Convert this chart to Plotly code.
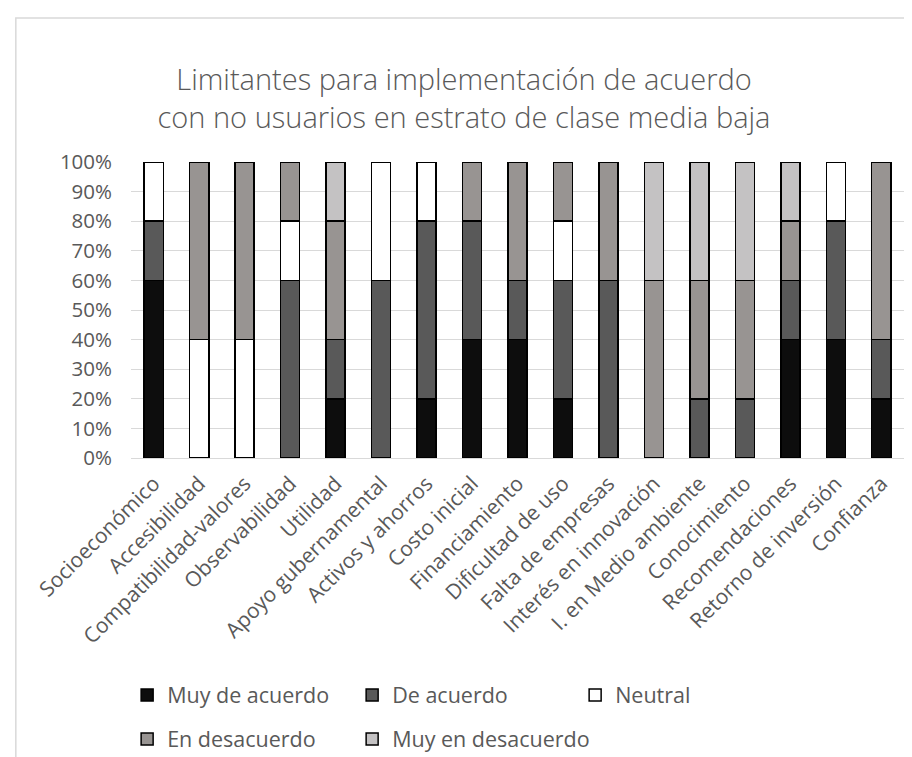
import plotly.graph_objects as go

categories = ["Socioeconómico", "Accesibilidad", "Compatibilidad-valores", "Observabilidad",
              "Utilidad", "Apoyo gubernamental", "Activos y ahorros", "Costo inicial",
              "Financiamiento", "Dificultad de uso", "Falta de empresas", "Interés en innovación",
              "I. en Medio ambiente", "Conocimiento", "Recomendaciones", "Retorno de inversión",
              "Confianza"]

muy_de_acuerdo = [0.6, 0, 0, 0, 0.2, 0, 0.2, 0.4, 0.4, 0.2, 0, 0, 0, 0, 0.4, 0.4, 0.2]
de_acuerdo = [0.2, 0, 0, 0.6, 0.2, 0.6, 0.6, 0.4, 0.2, 0.4, 0.6, 0, 0.2, 0.2, 0.2, 0.4, 0.2]
neutral = [0.2, 0.4, 0.4, 0.2, 0, 0.4, 0.2, 0, 0, 0.2, 0, 0, 0, 0, 0, 0.2, 0]
en_desacuerdo = [0, 0.6, 0.6, 0.2, 0.4, 0, 0, 0.2, 0.4, 0.2, 0.4, 0.6, 0.4, 0.4, 0.2, 0, 0.6]
muy_en_desacuerdo = [0, 0, 0, 0, 0.2, 0, 0, 0, 0, 0, 0, 0.4, 0.4, 0.4, 0.2, 0, 0]

series = [
    ("Muy de acuerdo", muy_de_acuerdo, "#0d0d0d", "legend"),
    ("De acuerdo", de_acuerdo, "#595959", "legend2"),
    ("Neutral", neutral, "#ffffff", "legend3"),
    ("En desacuerdo", en_desacuerdo, "#989492", "legend4"),
    ("Muy en desacuerdo", muy_en_desacuerdo, "#c4c2c3", "legend5"),
]

FONT = "Open Sans"
GRAY = "#595959"

fig = go.Figure()
for name, vals, col, leg in series:
    fig.add_trace(go.Bar(
        name=name, x=categories, y=vals, legend=leg, showlegend=True,
        marker=dict(color=col, line=dict(color="#000000", width=1.5)),
    ))

PLOT_W = 912 - 123 - 16
col_x = [-0.005, -0.005 + 225 / PLOT_W, -0.005 + 448 / PLOT_W]
row_y = [(450 - 687) / 296, (450 - 731) / 296]


def leg(x, y):
    return dict(
        orientation="h", x=x, xanchor="left", y=y, yanchor="middle",
        font=dict(family=FONT, size=21.5, color=GRAY),
        traceorder="normal", bgcolor="rgba(0,0,0,0)",
    )


fig.update_layout(
    showlegend=True,
    barmode="stack",
    bargap=0.58,
    width=912, height=757,
    paper_bgcolor="white", plot_bgcolor="white",
    margin=dict(l=123, r=16, t=154, b=307, autoexpand=False),
    font=dict(family=FONT, color=GRAY),
    title=dict(
        text="Limitantes para implementación de acuerdo<br>con no usuarios en estrato de clase media baja",
        x=0.5, xref="container", xanchor="center",
        y=1 - 82 / 757, yref="container", yanchor="middle",
        font=dict(family=FONT, size=29, color=GRAY, weight=300),
    ),
    xaxis=dict(
        tickangle=-45, tickfont=dict(size=21, color=GRAY),
        showline=True, linecolor="#d9d9d9", linewidth=1,
        ticks="", showgrid=False, automargin=False, ticklabelstandoff=4,
    ),
    yaxis=dict(
        range=[0, 1], tickformat=".0%", dtick=0.1,
        tickfont=dict(size=20.5, color=GRAY),
        showgrid=True, gridcolor="#d9d9d9", gridwidth=1,
        zeroline=False, showline=False, ticks="", automargin=False,
        ticklabelstandoff=18,
    ),
    legend=leg(col_x[0], row_y[0]),
    legend2=leg(col_x[1], row_y[0]),
    legend3=leg(col_x[2], row_y[0]),
    legend4=leg(col_x[0], row_y[1]),
    legend5=leg(col_x[1], row_y[1]),
    shapes=[dict(type="rect", xref="paper", yref="paper",
                 x0=-0.149, x1=1.3, y0=-1.5, y1=1.4865,
                 line=dict(color="#d9d9d9", width=1.5), fillcolor="rgba(0,0,0,0)",
                 layer="below")],
)

fig.write_html("out.html")
